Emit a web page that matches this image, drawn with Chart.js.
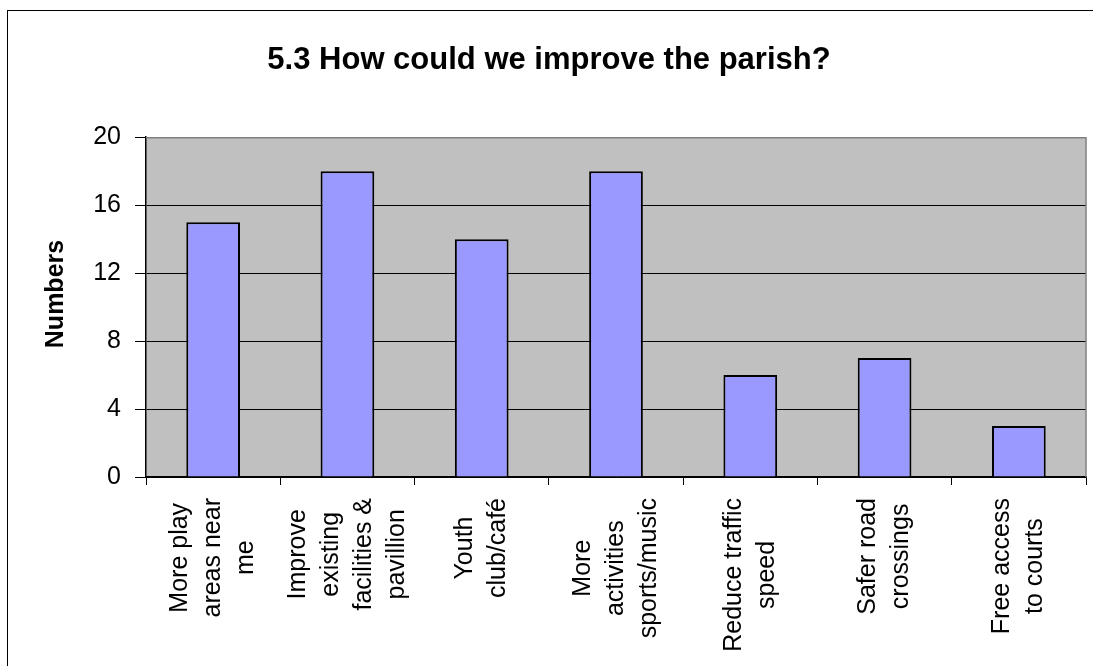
<!DOCTYPE html>
<html>
<head>
<meta charset="utf-8">
<title>5.3 How could we improve the parish?</title>
<script src="https://cdn.jsdelivr.net/npm/chart.js@4/dist/chart.umd.min.js"></script>
<style>
    body { margin: 0; background: #ffffff; }
    #wrap { width: 1093px; height: 666px; position: relative; }
</style>
</head>
<body>
<div id="wrap"><canvas id="parishChart"></canvas></div>
<script>
// Chart data
const categories = [
    ['More play', 'areas near', 'me'],
    ['Improve', 'existing', 'facilities &', 'pavillion'],
    ['Youth', 'club/café'],
    ['More', 'activities', 'sports/music'],
    ['Reduce traffic', 'speed'],
    ['Safer road', 'crossings'],
    ['Free access', 'to courts']
];
const responses = [15, 18, 14, 18, 6, 7, 3];
const yTickValues = [0, 4, 8, 12, 16, 20];

const FONT = '"Liberation Sans", Arial, sans-serif';

// Grey plot background, grey top/right frame, outer chart border
const plotFrame = {
    id: 'plotFrame',
    beforeDraw(chart) {
        const { ctx, chartArea: a } = chart;
        ctx.save();
        ctx.fillStyle = '#ffffff';
        ctx.fillRect(0, 0, chart.width, chart.height);
        ctx.fillStyle = '#c0c0c0';
        ctx.fillRect(a.left, a.top, a.right - a.left, a.bottom - a.top);
        ctx.strokeStyle = '#000000';
        ctx.lineWidth = 1;
        ctx.strokeRect(7.5, 10.5, chart.width + 20, chart.height + 20);
        ctx.restore();
    },
    afterDatasetsDraw(chart) {
        const { ctx, chartArea: a } = chart;
        ctx.save();
        ctx.strokeStyle = '#808080';
        ctx.lineWidth = 1.5;
        ctx.beginPath();
        ctx.moveTo(a.left, a.top + 0.5);
        ctx.lineTo(a.right, a.top + 0.5);
        ctx.lineTo(a.right, a.bottom);
        ctx.stroke();
        ctx.restore();
    }
};

// Rotated, centred multi-line category labels and the y axis title
const axisText = {
    id: 'axisText',
    afterDraw(chart) {
        const { ctx } = chart;
        const xScale = chart.scales.x;
        ctx.save();
        ctx.fillStyle = '#000000';
        ctx.font = '25px ' + FONT;
        ctx.textAlign = 'center';
        ctx.textBaseline = 'middle';
        categories.forEach((lines, i) => {
            const x = xScale.getPixelForValue(i);
            const maxW = Math.max(...lines.map(l => ctx.measureText(l).width));
            const cy = xScale.top + 21 + maxW / 2;
            ctx.save();
            ctx.translate(x, cy);
            ctx.rotate(-Math.PI / 2);
            lines.forEach((line, j) => {
                ctx.fillText(line, 0, (j - (lines.length - 1) / 2) * 33);
            });
            ctx.restore();
        });

        ctx.font = 'bold 25px ' + FONT;
        ctx.translate(56, 294);
        ctx.rotate(-Math.PI / 2);
        ctx.fillText('Numbers', 0, 0);
        ctx.restore();
    }
};

const ctx = document.getElementById('parishChart').getContext('2d');

new Chart(ctx, {
    type: 'bar',
    data: {
        labels: categories,
        datasets: [{
            label: 'Numbers',
            data: responses,
            backgroundColor: '#9999ff',
            borderColor: '#000000',
            borderWidth: 2,
            barPercentage: 0.4,
            categoryPercentage: 1.0
        }]
    },
    options: {
        responsive: true,
        maintainAspectRatio: false,
        animation: false,
        layout: {
            padding: { left: 12, right: 7, top: 0, bottom: 0 }
        },
        plugins: {
            legend: { display: false },
            tooltip: { enabled: false },
            title: {
                display: true,
                text: '5.3 How could we improve the parish?',
                color: '#000000',
                font: { family: FONT, size: 31, weight: 'bold', lineHeight: 1.2 },
                padding: { top: 42, bottom: 58 }
            }
        },
        scales: {
            x: {
                offset: true,
                grid: {
                    display: true,
                    drawOnChartArea: false,
                    drawTicks: true,
                    tickLength: 8,
                    tickColor: '#000000',
                    offset: true
                },
                border: { display: true, color: '#000000', width: 1.5 },
                ticks: { display: false },
                afterFit(scale) { scale.height = 189; }
            },
            y: {
                min: 0,
                max: 20,
                afterBuildTicks(scale) {
                    scale.ticks = yTickValues.map(v => ({ value: v }));
                },
                grid: {
                    color: c => (c.tick && c.tick.value === 20) ? '#808080' : '#000000',
                    lineWidth: 1,
                    tickLength: 11,
                    tickColor: '#000000'
                },
                border: { display: true, color: '#000000', width: 1.5 },
                ticks: {
                    color: '#000000',
                    padding: 14,
                    font: { family: FONT, size: 25 }
                },
                afterFit(scale) { scale.width = 134; }
            }
        }
    },
    plugins: [plotFrame, axisText]
});
</script>
</body>
</html>
